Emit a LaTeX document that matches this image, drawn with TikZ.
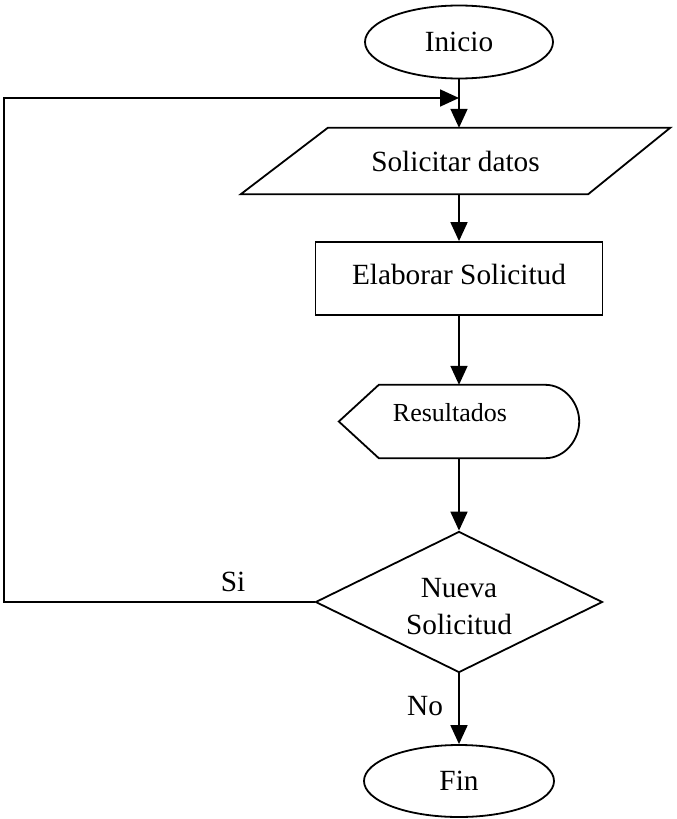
\documentclass[tikz,border=0pt]{standalone}
\usepackage{fontspec}
\setmainfont{Liberation Serif}
\usetikzlibrary{shapes.geometric,arrows.meta}
\begin{document}
\begin{tikzpicture}[x=1pt,y=-1pt,
  every node/.style={font=\fontsize{29.3}{37}\selectfont, inner sep=0pt},
  outline/.style={draw=black, line width=1.8pt},
  flow/.style={draw=black, line width=1.8pt, -{Triangle[length=19pt,width=17pt]}}]
\useasboundingbox (0,0) rectangle (677,819);

% terminal: start
\node[ellipse, outline, minimum width=188pt, minimum height=73pt] (ini) at (459,42) {Inicio};

% input parallelogram
\node[minimum width=429pt, minimum height=66pt] (datos) at (455.5,161) {Solicitar datos};
\draw[outline] (datos.south west) -- ([xshift=87pt]datos.north west)
  -- (datos.north east) -- ([xshift=-82pt]datos.south east) -- cycle;

% process box
\node[rectangle, outline, minimum width=287pt, minimum height=73pt] (elab) at (459,278.5) {};
\node (elabtxt) at (459,274) {Elaborar Solicitud};

% display shape
\node[minimum width=240pt, minimum height=73pt] (res) at (459,421.5) {};
\draw[outline] (res.west) -- ([xshift=40pt]res.north west)
  -- ([xshift=-34pt]res.north east)
  .. controls ([xshift=-14pt]res.north east) and ([yshift=18pt]res.east) .. (res.east)
  .. controls ([yshift=-18pt]res.east) and ([xshift=-14pt]res.south east) .. ([xshift=-34pt]res.south east)
  -- ([xshift=40pt]res.south west) -- cycle;
\node[font=\fontsize{26}{30}\selectfont] (restxt) at (450,413) {Resultados};

% decision
\node[diamond, outline, aspect=2.04, minimum width=287pt, minimum height=141pt] (dec) at (459,602) {};
\node[align=center] (dectxt) at (459,607) {Nueva\\Solicitud};

% terminal: end
\node[ellipse, outline, minimum width=190pt, minimum height=72pt] (fin) at (459,781) {Fin};

% connectors
\coordinate (join) at (459,98);
\coordinate (loopx) at (4,300);
\draw[flow] (ini.south) -- (ini.south |- datos.north);
\draw[flow] (elab.north |- datos.south) -- (elab.north);
\draw[flow] (elab.south) -- (res.north);
\draw[flow] (res.south) -- (dec.north);
\draw[flow] (dec.south) -- (fin.north);
\draw[flow] (dec.west) -| (loopx) |- (join);

% branch labels
\node (si) at (233,582) {Si};
\node (no) at (425,706) {No};
\end{tikzpicture}
\end{document}
